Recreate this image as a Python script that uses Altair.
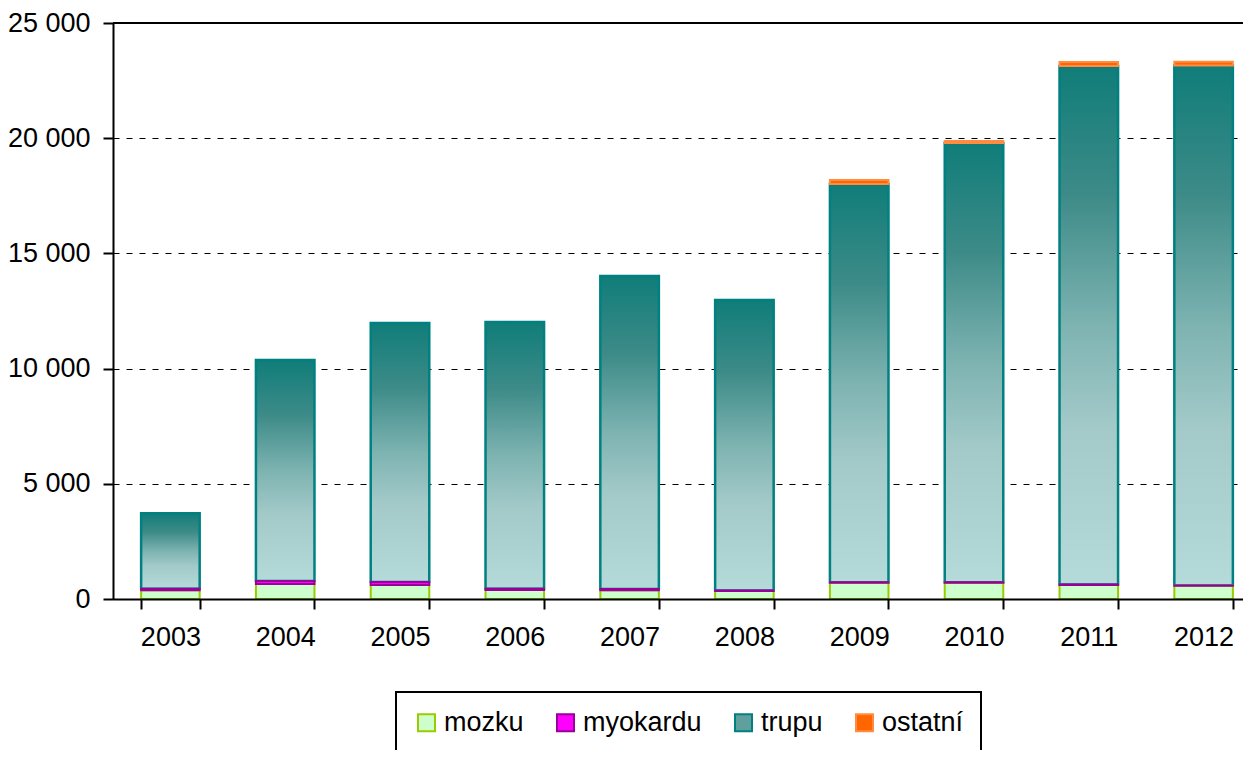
import altair as alt
import pandas as pd

years = ["2003", "2004", "2005", "2006", "2007", "2008", "2009", "2010", "2011", "2012"]
mozku = [380, 650, 610, 390, 380, 350, 700, 710, 610, 580]
myokardu = [60, 130, 130, 50, 50, 20, 30, 20, 20, 10]
trupu = [3280, 9590, 11240, 11580, 13590, 12610, 17280, 19060, 22500, 22560]
ostatni = [0, 0, 0, 0, 0, 0, 180, 90, 180, 170]

series = ["mozku", "myokardu", "trupu", "ostatní"]
fills = ["#ccffcc", "#ff00ff", "#5f9f9d", "#ff6600"]
strokes = ["#99cc00", "#990099", "#008080", "#ff8c40"]
y_ticks = [0, 5000, 10000, 15000, 20000, 25000]

rows = []
for i, yr in enumerate(years):
    base = 0
    for name, vals in zip(series, [mozku, myokardu, trupu, ostatni]):
        v = vals[i]
        rows.append(dict(year=yr, series=name, start=base, end=base + v, value=v))
        base += v
df = pd.DataFrame(rows)
df_other = df[(df.series != "trupu") & (df.value > 0)]
df_trupu = df[df.series == "trupu"]

FONT = "Liberation Sans"
FS = 27

x_enc = alt.X(
    "year:N",
    scale=alt.Scale(domain=years, range=[0, 1148], paddingInner=0.49, paddingOuter=0.245),
    axis=alt.Axis(
        title=None, labelAngle=0, tickBand="extent", grid=False,
        labelFontSize=FS, labelColor="black", labelFont=FONT, labelPadding=15,
        tickSize=10, tickColor="black", tickWidth=2,
        domainColor="black", domainWidth=2, zindex=1,
    ),
)
y_enc = alt.Y(
    "start:Q",
    scale=alt.Scale(domain=[0, 25000], nice=False),
    axis=alt.Axis(
        title=None, values=y_ticks,
        labelExpr="replace(format(datum.value, ','), ',', ' ')",
        labelFontSize=FS, labelColor="black", labelFont=FONT, labelPadding=13,
        tickSize=10, tickColor="black", tickWidth=2,
        domainColor="black", domainWidth=2,
        grid=True, gridColor="black", gridDash=[6, 7], gridWidth=1,
    ),
)

legend = alt.Legend(
    title=None, orient="none", legendX=283, legendY=669, direction="horizontal",
    columns=4, labelFontSize=FS, labelFont=FONT, labelColor="black",
    symbolType="square", symbolSize=289, symbolStrokeWidth=2,
    labelOffset=4, columnPadding=28, padding=17,
    strokeColor="black", fillColor="white",
)

bars_other = alt.Chart(df_other).mark_bar(strokeWidth=2).encode(
    x=x_enc,
    y=y_enc,
    y2="end:Q",
    color=alt.Color("series:N", scale=alt.Scale(domain=series, range=fills), legend=legend),
    stroke=alt.Stroke("series:N", scale=alt.Scale(domain=series, range=strokes), legend=legend),
)

gradient = alt.LinearGradient(
    gradient="linear",
    stops=[
        alt.GradientStop(color="#107d79", offset=0),
        alt.GradientStop(color="#3d8b88", offset=0.25),
        alt.GradientStop(color="#7db3b1", offset=0.5),
        alt.GradientStop(color="#a3cac9", offset=0.7),
        alt.GradientStop(color="#b4dada", offset=1),
    ],
    x1=0, x2=0, y1=0, y2=1,
)

bars_trupu = alt.Chart(df_trupu).mark_bar(
    fill=gradient, stroke="#008080", strokeWidth=2.5
).encode(x=x_enc, y=y_enc, y2="end:Q")

top_rule = alt.Chart(pd.DataFrame({"v": [25000]})).mark_rule(
    color="black", strokeWidth=2
).encode(y=alt.Y("v:Q"))

chart = alt.layer(bars_trupu, bars_other, top_rule).properties(
    width=1130, height=576,
    padding={"left": 105, "top": 15, "right": 0, "bottom": 151},
    autosize=alt.AutoSizeParams(type="none"),
).configure_view(stroke=None).configure(font=FONT).configure_legend(strokeWidth=2)

chart.save("out.html", embed_options={"renderer": "svg", "actions": False})
